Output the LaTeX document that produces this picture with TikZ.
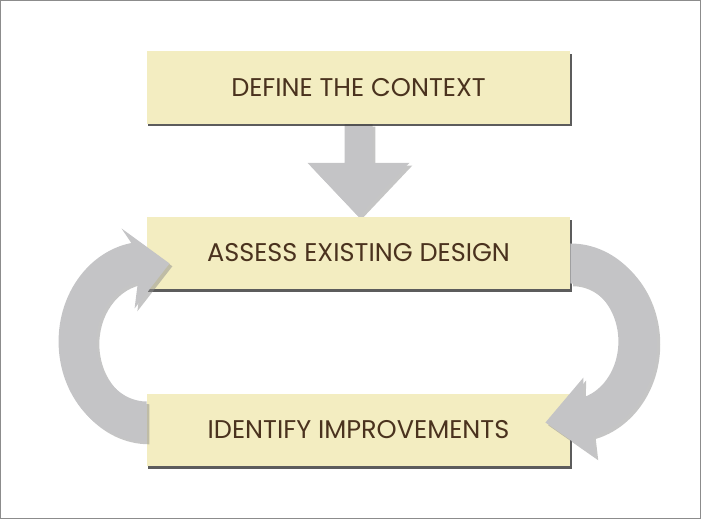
\documentclass[tikz,border=0pt]{standalone}
\usepackage{fontspec}
\setmainfont{Poppins}
\usetikzlibrary{calc,shadows}
\definecolor{boxfill}{RGB}{243,237,193}
\definecolor{boxtext}{RGB}{74,50,30}
\definecolor{arrowgray}{RGB}{196,196,198}
\definecolor{framegray}{RGB}{140,140,140}
\pgfdeclarelayer{background}
\pgfsetlayers{background,main}
\tikzset{
	stage/.style = {fill=boxfill, text=boxtext, minimum width=10.58cm, minimum height=1.8cm,
		font=\fontsize{18.2}{21}\selectfont,
		drop shadow={shadow xshift=0.04cm, shadow yshift=-0.07cm, fill=black!75, opacity=0.85}},
	blockarrow/.style = {fill=arrowgray,
		drop shadow={shadow xshift=0.07cm, shadow yshift=-0.07cm, fill=black!45, opacity=0.5}}
}

\begin{document}
\begin{tikzpicture}[x=0.025cm, y=0.025cm]
	\useasboundingbox (0,0) rectangle (701,519);
	\draw[framegray, line width=0.6pt] (0.5,0.5) rectangle (700.5,518.5);
	\node[stage] (context) at (358.5,431.5) {DEFINE THE CONTEXT};
	\node[stage] (assess) at (358.5,266) {ASSESS EXISTING DESIGN};
	\node[stage] (identify) at (358.5,89) {IDENTIFY IMPROVEMENTS};
	\coordinate (lc) at ($(assess.west)!0.5!(identify.west)$);
	\coordinate (rc) at ($(assess.east)!0.5!(identify.east)$);
	\begin{pgfonlayer}{background}
		\path[blockarrow] ($(context.south) + (-14,0)$) -- ($(context.south) + (-14,-39)$)
			-- ($(context.south) + (-51,-39)$) -- (assess.north)
			-- ($(context.south) + (51,-39)$) -- ($(context.south) + (14,-39)$)
			-- ($(context.south) + (14,0)$) -- cycle;
	\end{pgfonlayer}
	\path[blockarrow] ($(lc) + (0,-100)$) arc[start angle=270, end angle=100, x radius=88, y radius=100]
		-- ($(lc) + (-25,113)$) -- ($(lc) + (23,78)$) -- ($(lc) + (-12,33)$)
		-- ($(lc) + (-8.7,59.1)$) arc[start angle=100, end angle=270, x radius=50, y radius=60]
		-- cycle;
	\path[blockarrow] ($(rc) + (0,98)$) arc[start angle=90, end angle=-75, x radius=87, y radius=98]
		-- ($(rc) + (25,-116)$) -- ($(rc) + (-25,-81)$) -- ($(rc) + (13,-36)$)
		-- ($(rc) + (12.4,-56)$) arc[start angle=-75, end angle=90, x radius=48, y radius=58]
		-- cycle;
\end{tikzpicture}
\end{document}
